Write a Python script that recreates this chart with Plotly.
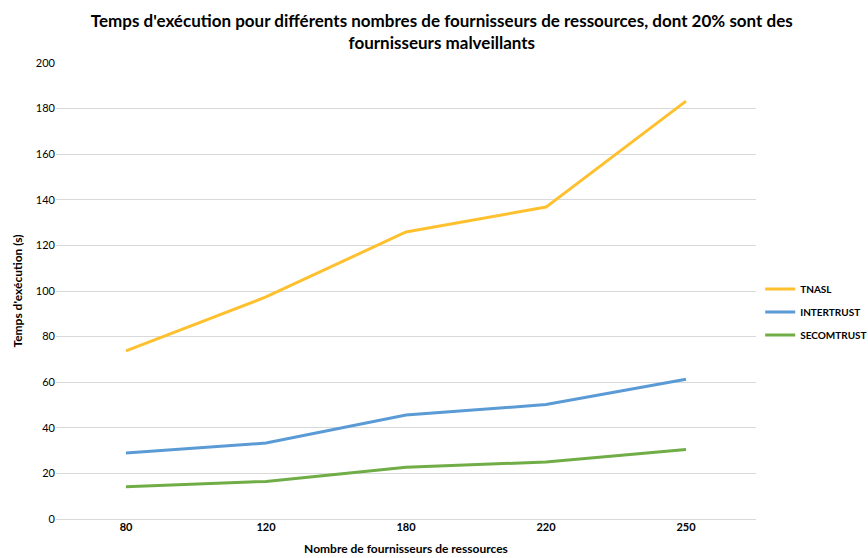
import plotly.graph_objects as go

# Number of resource providers (categorical x axis)
providers = ["80", "120", "180", "220", "250"]

# Execution time in seconds for each trust model
tnasl = [73.7, 97.4, 125.9, 136.8, 183.3]
intertrust = [28.9, 33.3, 45.6, 50.2, 61.3]
secomtrust = [14.1, 16.5, 22.7, 25.0, 30.5]

series_names = ["TNASL", "INTERTRUST", "SECOMTRUST"]
series_values = [tnasl, intertrust, secomtrust]
series_colors = ["#FFC02E", "#5B9BD5", "#70AD47"]

y_ticks = list(range(0, 201, 20))

FONT = "Lato, sans-serif"

fig = go.Figure()
for name, vals, col in zip(series_names, series_values, series_colors):
    fig.add_trace(go.Scatter(
        x=providers, y=vals, name=name, mode="lines",
        legendgroup=name,
        line=dict(color=col, width=3),
    ))

fig.update_layout(
    width=868, height=558,
    margin=dict(l=56, r=112, t=63, b=39, autoexpand=False),
    paper_bgcolor="white", plot_bgcolor="white",
    font=dict(family=FONT, color="#000000", size=11),
    title=dict(
        text="<b>Temps d'exécution pour différents nombres de fournisseurs de ressources, dont 20% sont des<br>fournisseurs malveillants</b>",
        x=0.509, xref="container", xanchor="center",
        y=0.952, yref="container", yanchor="top",
        font=dict(family=FONT, size=17, color="#000000"),
    ),
    xaxis=dict(
        type="category", range=[-0.5, 4.5],
        showgrid=False, showline=False, zeroline=False,
        ticks="", tickfont=dict(size=11, family=FONT, weight="bold"),
        title=dict(text="<b>Nombre de fournisseurs de ressources</b>",
                   font=dict(size=12, family=FONT), standoff=12),
    ),
    yaxis=dict(
        range=[0, 200], tickvals=y_ticks,
        showgrid=True, gridcolor="#D9D9D9", gridwidth=1,
        zeroline=True, zerolinecolor="#D9D9D9", zerolinewidth=1,
        showline=False, ticks="", ticklen=0,
        tickfont=dict(size=11, family=FONT),
        title=dict(text="<b>Temps d'exécution (s)</b>",
                   font=dict(size=12, family=FONT), standoff=10),
    ),
    legend=dict(
        x=1.006, y=0.454, xanchor="left", yanchor="middle",
        font=dict(size=10, family=FONT, weight="bold"),
        itemwidth=30, tracegroupgap=4, bgcolor="rgba(0,0,0,0)",
    ),
    showlegend=True,
)

fig.write_html("out.html")
